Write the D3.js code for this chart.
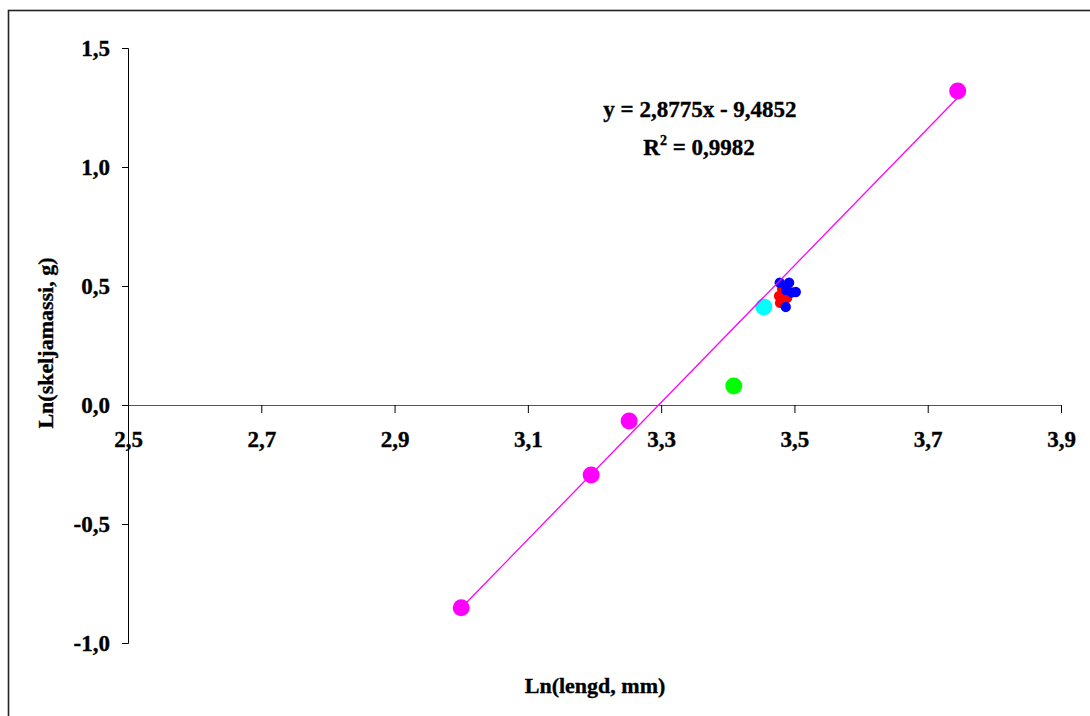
<!DOCTYPE html>
<html>
<head>
<meta charset="utf-8">
<script src="https://cdn.jsdelivr.net/npm/d3@7"></script>
<style>
  html, body { margin: 0; padding: 0; background: #fff; }
  svg { display: block; }
  text { font-family: "Liberation Serif", "Times New Roman", serif; font-weight: bold; fill: #000; stroke: #000; stroke-width: 0.35px; }
</style>
</head>
<body>
<svg id="chart" width="1090" height="716"></svg>
<script>
// ---- data ----
const xTicks = [2.5, 2.7, 2.9, 3.1, 3.3, 3.5, 3.7, 3.9];
const yTicks = [-1.0, -0.5, 0.0, 0.5, 1.0, 1.5];

const magentaX = [3.000, 3.195, 3.252, 3.745];
const magentaY = [-0.852, -0.294, -0.067, 1.319];

const greenX = [3.409];
const greenY = [0.080];

const cyanX = [3.454];
const cyanY = [0.412];

const redX = [3.477, 3.4785, 3.4845, 3.4815, 3.489, 3.4875];
const redY = [0.458, 0.429, 0.437, 0.487, 0.450, 0.471];

const blueX = [3.478, 3.492, 3.4875, 3.496, 3.502, 3.487];
const blueY = [0.514, 0.514, 0.483, 0.473, 0.475, 0.412];

const trendSlope = 2.8775;
const trendIntercept = -9.4852;
const trendRange = [3.0, 3.745];
const equationLines = ["y = 2,8775x - 9,4852", "R", "2", " = 0,9982"];

const xTitle = "Ln(lengd, mm)";
const yTitle = "Ln(skeljamassi, g)";

// ---- drawing ----
const svg = d3.select("#chart");
const fmt = v => d3.format(".1f")(v).replace(".", ",").replace("\u2212", "-");

const x = d3.scaleLinear().domain([2.5, 3.9]).range([128, 1061]);
const y = d3.scaleLinear().domain([-1.0, 1.5]).range([643, 48]);

// outer frame (cut off at right and bottom)
svg.append("rect").attr("x", 8.5).attr("y", 10.5).attr("width", 1100).attr("height", 730)
  .attr("fill", "none").attr("stroke", "#222").attr("stroke-width", 1.6);

// y axis
const yAxis = d3.axisLeft(y).tickValues(yTicks).tickFormat(fmt).tickSize(6).tickPadding(12);
const gy = svg.append("g").attr("transform", `translate(${x(2.5)},0)`).call(yAxis);
gy.select(".domain").attr("stroke", "#000").attr("d", `M-6,${y(1.5)}.5H0.5V${y(-1.0)}.5H-6`);
gy.selectAll(".tick line").attr("stroke", "#000");
gy.selectAll(".tick text").style("font-size", "23px").style("font-family", "Liberation Serif").style("font-weight", "bold").attr("fill", "#000");

// x axis at y = 0
const xAxis = d3.axisBottom(x).tickValues(xTicks).tickFormat(fmt).tickSize(8).tickPadding(18);
const gx = svg.append("g").attr("transform", `translate(0,${y(0)})`).call(xAxis);
gx.select(".domain").attr("stroke", "#555").attr("d", `M${x(2.5)},0.5H${x(3.9)}.5V8`);
gx.selectAll(".tick line").attr("stroke", "#000");
gx.selectAll(".tick text").style("font-size", "23px").style("font-family", "Liberation Serif").style("font-weight", "bold").attr("fill", "#000");

// points
function drawSeries(xs, ys, color, r) {
  svg.append("g").selectAll("circle").data(xs.map((d, i) => [d, ys[i]])).join("circle")
    .attr("cx", d => x(d[0])).attr("cy", d => y(d[1])).attr("r", r).attr("fill", color);
}
drawSeries(magentaX, magentaY, "#FF00FF", 8.5);
drawSeries(greenX, greenY, "#00FF00", 8.5);
drawSeries(cyanX, cyanY, "#00FFFF", 8.5);
drawSeries(redX, redY, "#FF0000", 5.2);
drawSeries(blueX, blueY, "#0000FF", 5.2);

// trend line
svg.append("line")
  .attr("x1", x(trendRange[0])).attr("y1", y(trendSlope * trendRange[0] + trendIntercept))
  .attr("x2", x(trendRange[1])).attr("y2", y(trendSlope * trendRange[1] + trendIntercept))
  .attr("stroke", "#FF00FF").attr("stroke-width", 1.3);

// equation
svg.append("text").attr("x", 700).attr("y", 117).attr("text-anchor", "middle")
  .style("font-size", "23px").text(equationLines[0]);
const t2 = svg.append("text").attr("x", 699).attr("y", 155).attr("text-anchor", "middle").style("font-size", "23px");
t2.append("tspan").text(equationLines[1]);
t2.append("tspan").attr("dy", -10).style("font-size", "14px").text(equationLines[2]);
t2.append("tspan").attr("dy", 10).text(equationLines[3]);

// axis titles
svg.append("text").attr("x", 595).attr("y", 693).attr("text-anchor", "middle")
  .style("font-size", "22px").text(xTitle);
svg.append("text").attr("transform", "translate(53,343) rotate(-90)").attr("text-anchor", "middle")
  .style("font-size", "22px").text(yTitle);
</script>
</body>
</html>
